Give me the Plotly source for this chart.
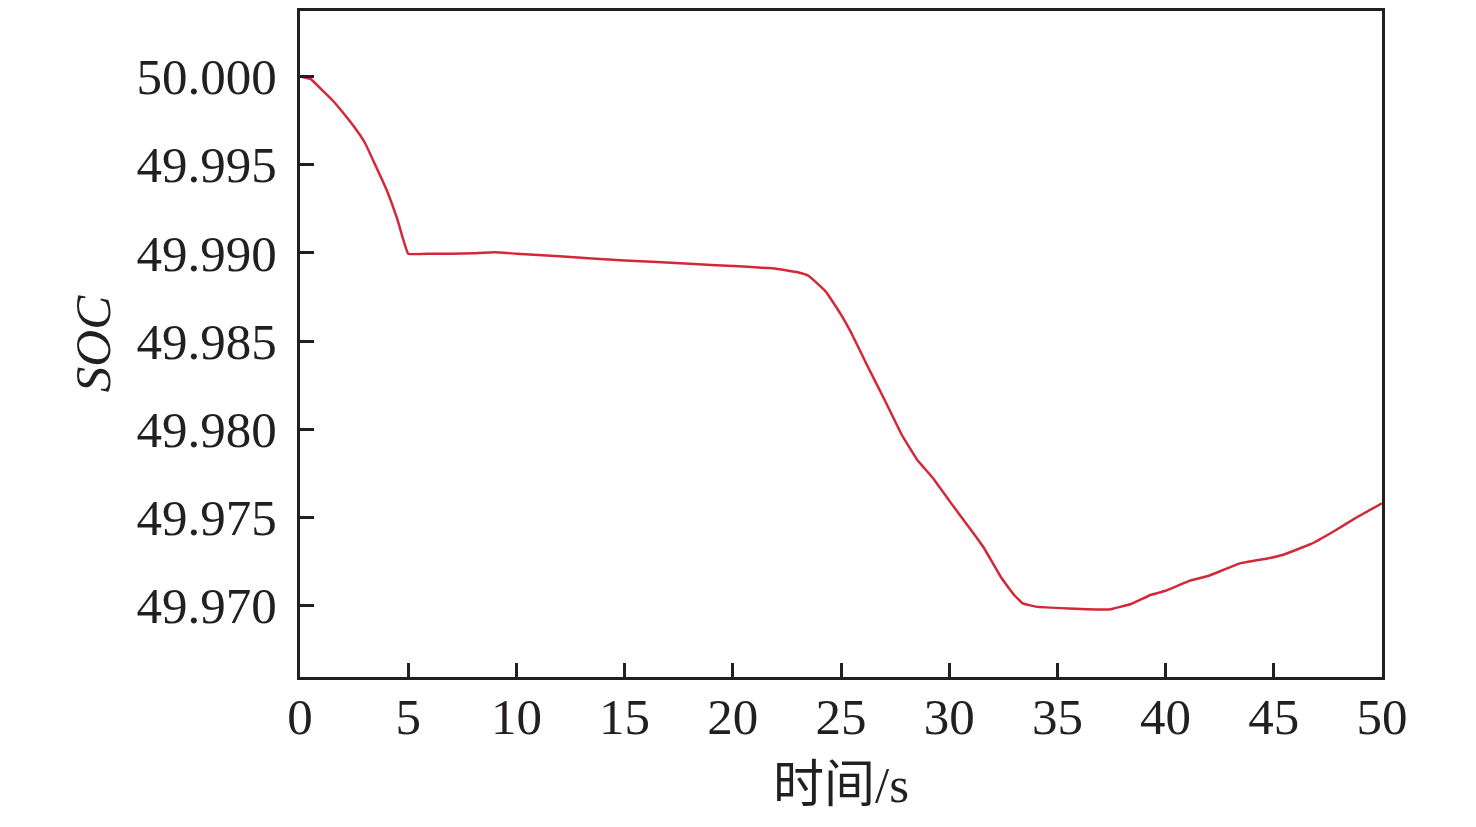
import plotly.graph_objects as go

time_s = [0, 0.5, 1, 1.5, 2, 2.5, 3, 3.5, 4, 4.5, 5, 6, 7, 8, 9, 10, 12, 15, 18, 20,
          22, 23, 23.5, 24.3, 25, 25.5, 26.2, 27, 27.8, 28.5, 29.3, 30, 31, 31.6, 32.4,
          33, 33.4, 34, 35.5, 37.4, 38.4, 39.3, 40, 41.1, 42, 43.4, 44.7, 45.4, 46.7,
          47.8, 48.8, 50]
soc = [50.00000, 49.99985, 49.99925, 49.99865, 49.99793, 49.99715, 49.99624, 49.99492,
       49.99358, 49.99190, 49.98995, 49.98995, 49.98995, 49.98998, 49.99003, 49.98995,
       49.98980, 49.98957, 49.98938, 49.98925, 49.98910, 49.98890, 49.98870, 49.98780,
       49.98650, 49.98540, 49.98364, 49.98170, 49.97970, 49.97830, 49.97715, 49.97595,
       49.97430, 49.97328, 49.97159, 49.97060, 49.97012, 49.96994, 49.96984, 49.96978,
       49.97009, 49.97060, 49.97084, 49.97140, 49.97169, 49.97238, 49.97267, 49.97287,
       49.97348, 49.97423, 49.97498, 49.97580]

x_ticks = [0, 5, 10, 15, 20, 25, 30, 35, 40, 45, 50]
y_ticks = [49.970, 49.975, 49.980, 49.985, 49.990, 49.995, 50.000]

FONT = "Liberation Serif, Noto Sans CJK SC, serif"
AX = "#231f20"
FS = 51

fig = go.Figure()
fig.add_trace(go.Scatter(x=time_s, y=soc, mode="lines",
                         line=dict(color="#d3283a", width=2.5, shape="spline", smoothing=0.25),
                         showlegend=False))

fig.update_layout(
    width=1476, height=827,
    margin=dict(l=292, r=102, t=0, b=158),
    paper_bgcolor="white", plot_bgcolor="white",
    font=dict(family=FONT, size=FS, color="#231f20"),
)
fig.update_xaxes(
    range=[0, 50], tickvals=x_ticks, ticktext=[str(v) for v in x_ticks],
    showgrid=False, zeroline=False,
    showline=True, linecolor=AX, linewidth=3, mirror=True,
    ticks="inside", ticklen=14, tickwidth=3, tickcolor=AX,
    tickfont=dict(family=FONT, size=FS), ticklabelstandoff=-7,
    title=dict(text="时间/s", font=dict(family=FONT, size=FS), standoff=23),
)
fig.update_yaxes(
    range=[49.96595, 50.00371], tickvals=y_ticks,
    ticktext=[f"{v:.3f}" for v in y_ticks],
    showgrid=False, zeroline=False,
    showline=True, linecolor=AX, linewidth=3, mirror=True,
    ticks="inside", ticklen=14, tickwidth=3, tickcolor=AX,
    tickfont=dict(family=FONT, size=FS), ticklabelstandoff=10,
    title=dict(text="<i>SOC</i>", font=dict(family=FONT, size=FS), standoff=10),
)

fig.write_html("out.html")
